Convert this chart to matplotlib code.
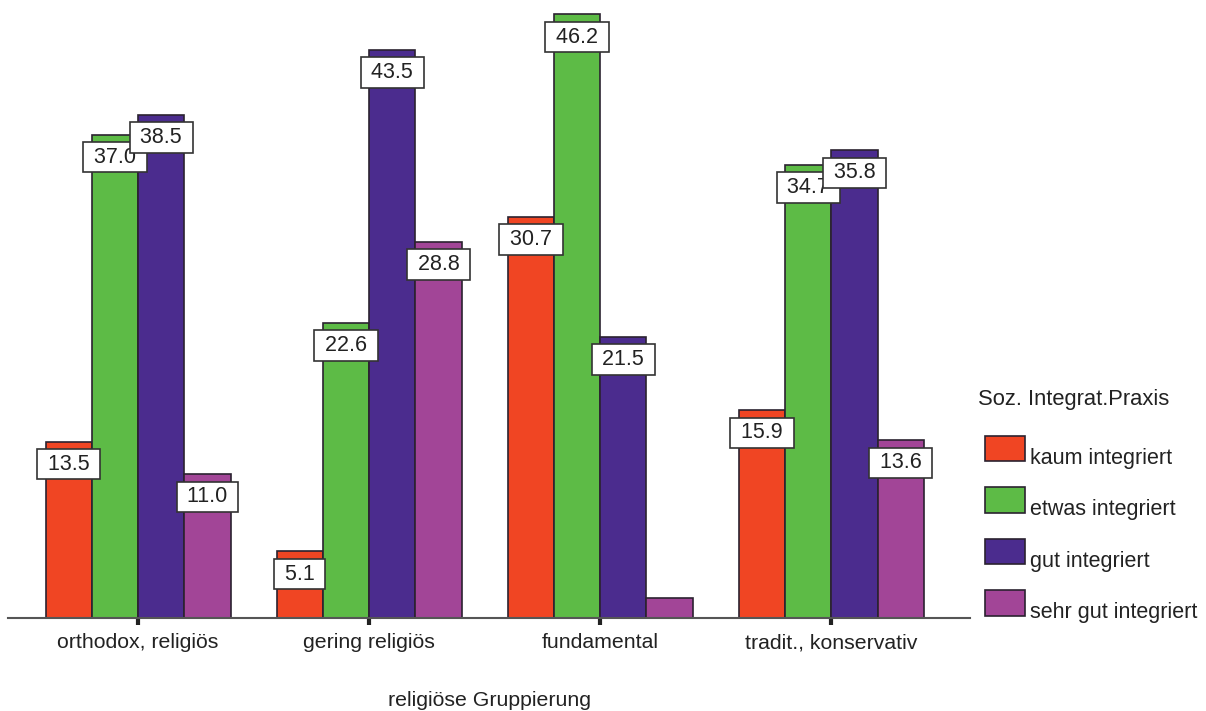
import matplotlib.pyplot as plt
from matplotlib.patches import Patch
from matplotlib.transforms import ScaledTranslation
import numpy as np

plt.rcParams["font.family"] = ["Liberation Sans", "DejaVu Sans"]

groups = ["orthodox, religiös", "gering religiös", "fundamental", "tradit., konservativ"]
series = ["kaum integriert", "etwas integriert", "gut integriert", "sehr gut integriert"]
values = {
    "kaum integriert": [13.5, 5.1, 30.7, 15.9],
    "etwas integriert": [37.0, 22.6, 46.2, 34.7],
    "gut integriert": [38.5, 43.5, 21.5, 35.8],
    "sehr gut integriert": [11.0, 28.8, 1.5, 13.6],
}
colors = ["#F04523", "#5DBB46", "#4B2C8E", "#A24597"]

BAR_W = 0.2
LABEL_MIN = 3.0  # smaller bars get no value box

fig = plt.figure(figsize=(12.06, 7.11), dpi=100)
ax = fig.add_axes([8 / 1206, 93 / 711, 962 / 1206, 618 / 711])

x = np.arange(len(groups))
for i, (name, color) in enumerate(zip(series, colors)):
    pos = x + (i - 1.5) * BAR_W
    ax.bar(pos, values[name], width=BAR_W, color=color, edgecolor="#2b2230", linewidth=1.2)
    for px, v in zip(pos, values[name]):
        if v < LABEL_MIN:
            continue
        ax.annotate(f" {v:.1f} ", xy=(px, v), xytext=(0, -16.3), textcoords="offset points",
                    ha="center", va="center", fontsize=15.5, color="#222222", zorder=5,
                    bbox=dict(boxstyle="square,pad=0.22", fc="white", ec="#333333", lw=1.2))

ax.set_xlim(-0.563, 3.6)
ax.set_ylim(0, 47.3)
for s in ["top", "right", "left"]:
    ax.spines[s].set_visible(False)
ax.spines["bottom"].set_color("#555555")
ax.spines["bottom"].set_linewidth(1.5)
ax.set_yticks([])
ax.set_xticks(x)
ax.set_xticklabels(groups, fontsize=15.3, color="#222222")
ax.tick_params(axis="x", length=5, width=3, color="#222222", pad=6)
ax.set_xlabel("religiöse Gruppierung", fontsize=15.3, color="#222222", labelpad=28)

handles = [Patch(facecolor=c, edgecolor="#2b2230", linewidth=1.2) for c in colors]
leg = fig.legend(handles, series, title="Soz. Integrat.Praxis", loc="upper left",
                 bbox_to_anchor=(985 / 1206, 1 - 389 / 711), frameon=False,
                 fontsize=15.5, title_fontsize=15.8, alignment="left",
                 handlelength=1.86, handleheight=1.45, handletextpad=0.22,
                 labelspacing=1.2, borderpad=0, borderaxespad=0)
# labels sit a little lower than the swatches in the original
shift = ScaledTranslation(0, -8 / 100, fig.dpi_scale_trans)
for t in leg.get_texts():
    t.set_color("#222222")
    t.set_transform(t.get_transform() + shift)
title = leg.get_title()
title.set_color("#222222")
title.set_transform(title.get_transform() + ScaledTranslation(-7 / 100, 0, fig.dpi_scale_trans))

fig.savefig("out.png", dpi=100)
